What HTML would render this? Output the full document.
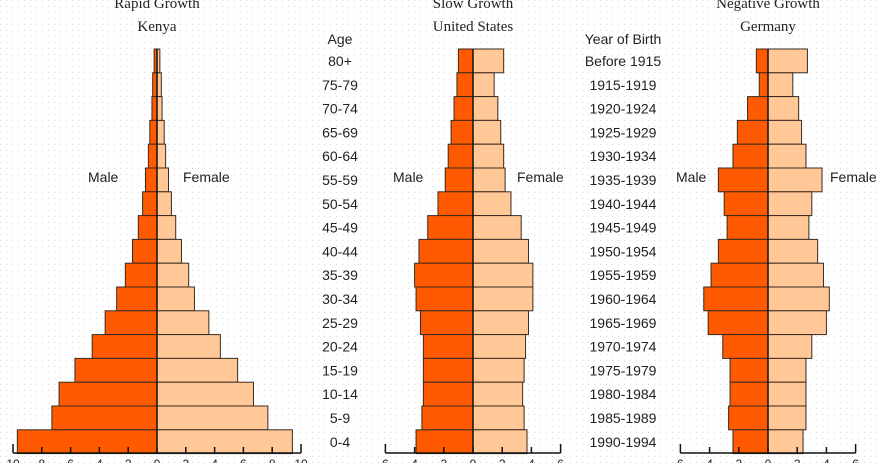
<!DOCTYPE html>
<html><head><meta charset="utf-8"><style>
body{margin:0;background:#fff;}
svg{display:block;font-family:"Liberation Sans",sans-serif;}
</style></head><body>
<svg id="chart" width="882" height="463">
<defs><pattern id="dots" width="6" height="6" patternUnits="userSpaceOnUse"><rect x="0" y="0" width="1" height="1" fill="#d8d8d8"/></pattern></defs>
<rect width="882" height="463" fill="url(#dots)"/>
<g id="marks"></g>
</svg>
<script>
const ages=["80+","75-79","70-74","65-69","60-64","55-59","50-54","45-49","40-44","35-39","30-34","25-29","20-24","15-19","10-14","5-9","0-4"];
const years=["Before 1915","1915-1919","1920-1924","1925-1929","1930-1934","1935-1939","1940-1944","1945-1949","1950-1954","1955-1959","1960-1964","1965-1969","1970-1974","1975-1979","1980-1984","1985-1989","1990-1994"];
const kenyaMale=[0.2,0.3,0.35,0.5,0.6,0.8,1.0,1.3,1.7,2.2,2.8,3.6,4.5,5.7,6.8,7.3,9.7];
const kenyaFemale=[0.2,0.3,0.35,0.5,0.6,0.8,1.0,1.3,1.7,2.2,2.6,3.6,4.4,5.6,6.7,7.7,9.4];
const usMale=[1.0,1.1,1.3,1.5,1.7,1.9,2.4,3.1,3.7,4.0,3.9,3.6,3.4,3.4,3.4,3.5,3.9];
const usFemale=[2.1,1.45,1.7,1.9,2.1,2.2,2.6,3.3,3.8,4.1,4.1,3.8,3.6,3.5,3.4,3.5,3.7];
const deMale=[0.8,0.6,1.4,2.1,2.4,3.4,3.0,2.8,3.4,3.9,4.4,4.1,3.1,2.6,2.6,2.7,2.4];
const deFemale=[2.7,1.7,2.1,2.3,2.6,3.7,3.0,2.8,3.4,3.8,4.2,4.0,3.0,2.6,2.6,2.6,2.4];
const kenyaTicks=["10","8","6","4","2","0","2","4","6","8","10"];
const otherTicks=["6","4","2","0","2","4","6"];

const NS="http://www.w3.org/2000/svg";
const g=document.getElementById('marks');
const top0=49,rowH=23.8;
function yRow(i){return top0+i*rowH;}
function mk(tag,attrs,parent){const e=document.createElementNS(NS,tag);for(const k in attrs)e.setAttribute(k,attrs[k]);(parent||g).appendChild(e);return e;}
function txt(x,y,s,size,anchor,fam){const t=mk('text',{x:x,y:y,'font-size':size,'text-anchor':anchor||'middle','fill':'#222'});if(fam)t.setAttribute('font-family',fam);t.textContent=s;return t;}

function pyramid(key,cx,unitPx,male,female,ticks,tickStep,title1,title2,maleX,femX){
  const sx=v=>v*unitPx;
  const grp=mk('g',{});
  
  
  male.forEach((v,i)=>{
    const r=mk('rect',{x:cx-sx(v),y:yRow(i),width:sx(v),height:rowH,fill:'#ff5a00',stroke:'#3a2a20','stroke-width':1},grp);
    
    
  });
  female.forEach((v,i)=>{
    const r=mk('rect',{x:cx,y:yRow(i),width:sx(female[i]),height:rowH,fill:'#ffc896',stroke:'#3a2a20','stroke-width':1},grp);
    
    
  });
  mk('line',{x1:cx,y1:yRow(0),x2:cx,y2:453,stroke:'#111','stroke-width':1.5},grp);
  const n=ticks.length, half=(n-1)/2;
  const ax=mk('g',{},grp);
  
  
  mk('line',{x1:cx-half*tickStep*unitPx,y1:453,x2:cx+half*tickStep*unitPx,y2:453,stroke:'#111','stroke-width':1.5},ax);
  ticks.forEach((t,j)=>{
    const x=cx+(j-half)*tickStep*unitPx;
    const end=(j===0||j===n-1);
    mk('line',{x1:x,y1:end?444:447,x2:x,y2:453,stroke:'#111','stroke-width':1.5},ax);
    const l=txt(x,468,t,12);
    
    
  });
  const a=txt(cx,8,title1,15,'middle','"Liberation Serif",serif');
  
  
  const b=txt(cx,31,title2,15,'middle','"Liberation Serif",serif');
  
  
  const m=txt(maleX,182,'Male',14,'start');
  
  
  const f=txt(femX,182,'Female',14,'start');
  
  
}
pyramid('kenya',157,14.4,kenyaMale,kenyaFemale,kenyaTicks,2,'Rapid Growth','Kenya',88,183);
pyramid('us',473,14.6,usMale,usFemale,otherTicks,2,'Slow Growth','United States',393,517);
pyramid('germany',768,14.6,deMale,deFemale,otherTicks,2,'Negative Growth','Germany',676,830);

const ah=txt(340,44,'Age',14);


const yh=txt(623,44,'Year of Birth',14);


ages.forEach((s,i)=>{
  const t=txt(340,yRow(i)+17,s,14);
  
  
});
years.forEach((s,i)=>{
  const t=txt(623,yRow(i)+17,s,14);
  
  
});
</script>
</body></html>
